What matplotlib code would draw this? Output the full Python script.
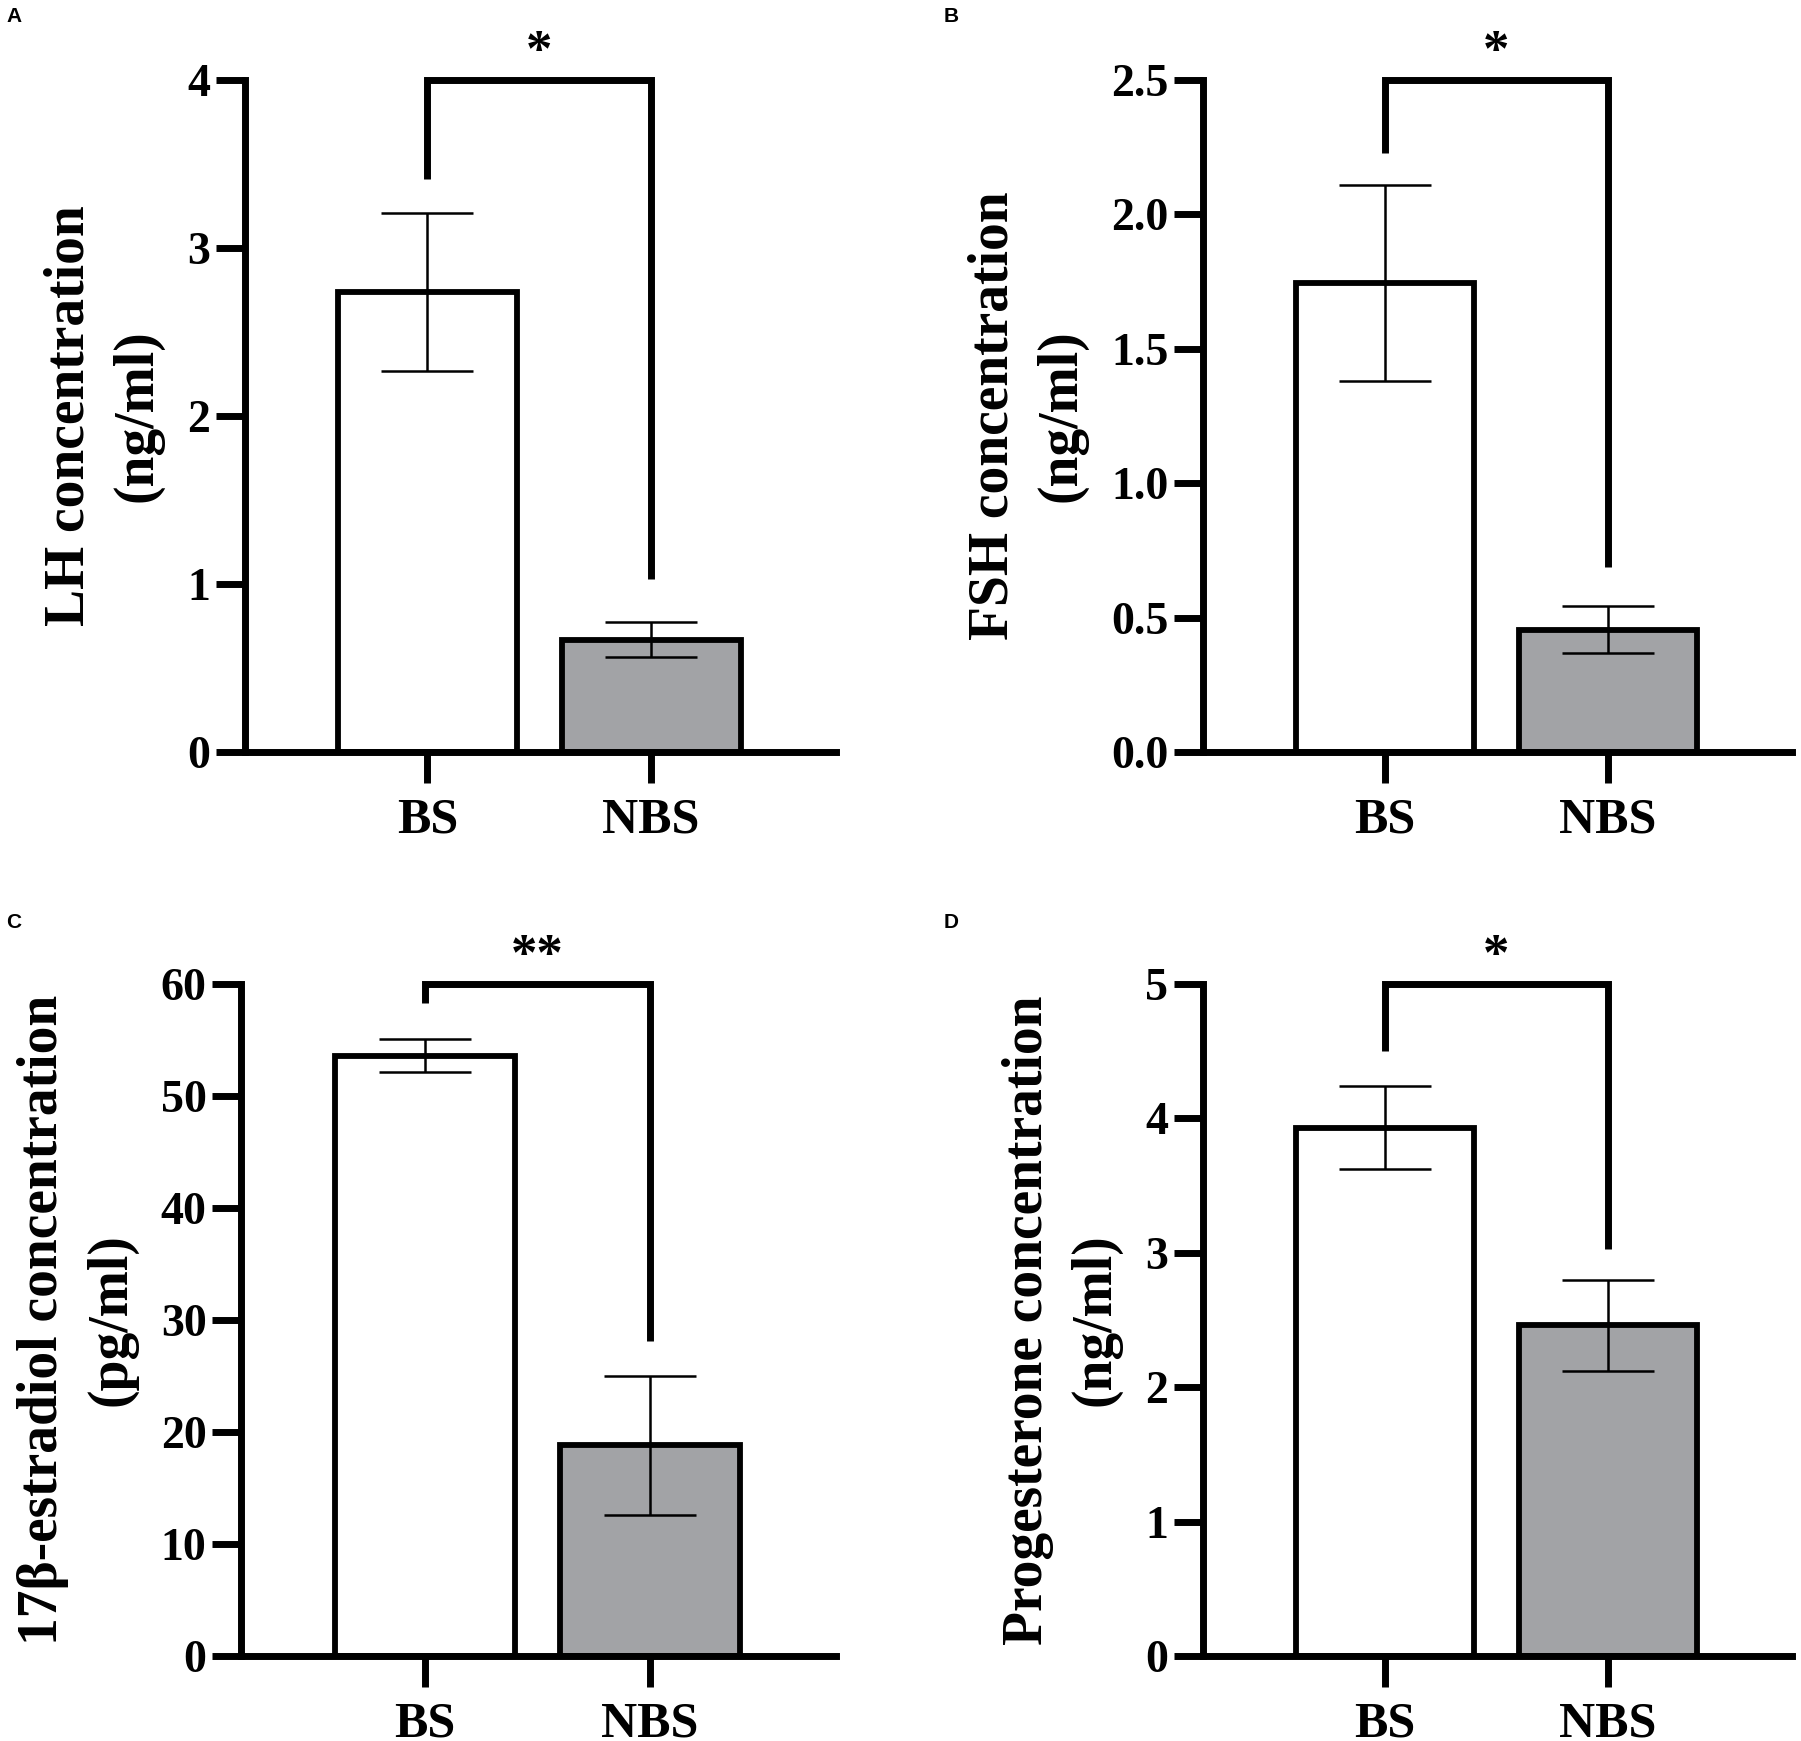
import matplotlib
matplotlib.use("Agg")
import matplotlib.pyplot as plt
import numpy as np

categories = ['BS', 'NBS']
lh_mean = [2.74, 0.67]
lh_err = [0.47, 0.105]
fsh_mean = [1.745, 0.455]
fsh_err = [0.365, 0.087]
e2_mean = [53.6, 18.8]
e2_err = [1.5, 6.2]
p4_mean = [3.93, 2.46]
p4_err = [0.31, 0.34]

lh_ticks = [0, 1, 2, 3, 4]
fsh_ticks = [0.0, 0.5, 1.0, 1.5, 2.0, 2.5]
e2_ticks = [0, 10, 20, 30, 40, 50, 60]
p4_ticks = [0, 1, 2, 3, 4, 5]

# bracket: (top, left leg end, right leg end)
lh_bracket = (4.0, 3.41, 1.03)
fsh_bracket = (2.5, 2.23, 0.69)
e2_bracket = (60.0, 58.3, 28.1)
p4_bracket = (5.0, 4.50, 3.03)

panels = [
    dict(letter='A', mean=lh_mean, err=lh_err, ticks=lh_ticks, fmt='{:.0f}',
         ylabel='LH concentration\n(ng/ml)', bracket=lh_bracket, star='*',
         pos=[0.136, 0.568, 0.328, 0.386], lpos=(6, 17)),
    dict(letter='B', mean=fsh_mean, err=fsh_err, ticks=fsh_ticks, fmt='{:.1f}',
         ylabel='FSH concentration\n(ng/ml)', bracket=fsh_bracket, star='*',
         pos=[0.668, 0.568, 0.327, 0.386], lpos=(944, 17)),
    dict(letter='C', mean=e2_mean, err=e2_err, ticks=e2_ticks, fmt='{:.0f}',
         ylabel='17β-estradiol concentration\n(pg/ml)', bracket=e2_bracket, star='**',
         pos=[0.134, 0.0488, 0.330, 0.386], lpos=(6, 923)),
    dict(letter='D', mean=p4_mean, err=p4_err, ticks=p4_ticks, fmt='{:.0f}',
         ylabel='Progesterone concentration\n(ng/ml)', bracket=p4_bracket, star='*',
         pos=[0.668, 0.0488, 0.327, 0.386], lpos=(944, 923)),
]

W, H = 1801, 1741
fig = plt.figure(figsize=(W / 100, H / 100), dpi=100)
serif = 'Liberation Serif'
colors = ['white', '#A2A3A6']
LW = 5.0

for p in panels:
    ax = fig.add_axes(p['pos'])
    x = np.arange(len(categories))
    ax.bar(x, p['mean'], width=0.8, color=colors, edgecolor='black', linewidth=4.2, zorder=2)
    ax.errorbar(x, p['mean'], yerr=p['err'], fmt='none', ecolor='black',
                elinewidth=1.8, capsize=33, capthick=1.8, zorder=3)
    ax.set_xlim(-0.815, 1.825)
    ax.set_ylim(p['ticks'][0], p['ticks'][-1])
    ax.set_yticks(p['ticks'])
    ax.set_yticklabels([p['fmt'].format(t) for t in p['ticks']],
                       fontfamily=serif, fontweight='bold', fontsize=33)
    ax.set_xticks(x)
    ax.set_xticklabels(categories, fontfamily=serif, fontweight='bold', fontsize=36)
    for s in ['top', 'right']:
        ax.spines[s].set_visible(False)
    for s in ['left', 'bottom']:
        ax.spines[s].set_linewidth(LW)
        ax.spines[s].set_capstyle('projecting')
    ax.tick_params(axis='y', length=21, width=LW, pad=4)
    ax.tick_params(axis='x', length=22, width=LW, pad=11)
    ax.set_ylabel(p['ylabel'], fontfamily=serif, fontweight='bold', fontsize=40,
                  linespacing=1.4, labelpad=17)
    top, le, re = p['bracket']
    ax.plot([0, 0, 1, 1], [le, top, top, re], color='black', lw=LW,
            solid_joinstyle='miter', solid_capstyle='butt', clip_on=False, zorder=4)
    ax.annotate(p['star'], xy=(0.5, top), xytext=(0, 2), textcoords='offset points',
                ha='center', va='bottom', fontfamily=serif, fontweight='bold',
                fontsize=38, annotation_clip=False)
    fig.text(p['lpos'][0] / W, 1 - p['lpos'][1] / H, p['letter'],
             fontfamily='Liberation Sans', fontweight='bold', fontsize=15,
             ha='left', va='center')

fig.savefig('out.png', dpi=100)
